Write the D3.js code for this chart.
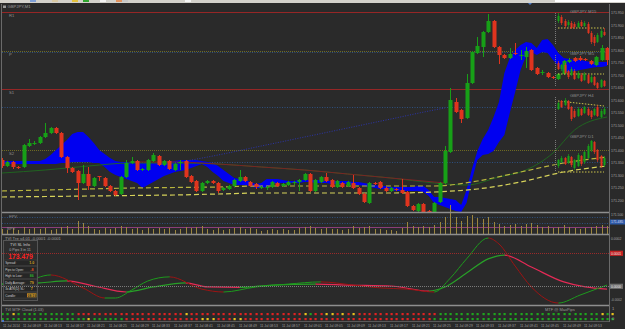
<!DOCTYPE html>
<html>
<head>
<meta charset="utf-8">
<script src="https://cdn.jsdelivr.net/npm/d3@7"></script>
<style>
  body { margin: 0; background: #2a2a2a; }
  svg { display: block; }
  text { font-family: "Liberation Sans", "DejaVu Sans", sans-serif; }
</style>
</head>
<body>
<div id="chart"></div>
<script>
// ---- main chart data (GBPJPY, M1) ----
var candleOpen = [171.360,171.336,171.352,171.332,171.332,171.416,171.424,171.428,171.452,171.468,
  171.488,171.468,171.372,171.328,171.316,171.268,171.304,171.256,171.296,171.288,
  171.256,171.236,171.224,171.292,171.348,171.356,171.320,171.320,171.356,171.376,
  171.340,171.356,171.320,171.348,171.356,171.296,171.276,171.236,171.268,171.276,
  171.268,171.240,171.244,171.256,171.276,171.292,171.272,171.264,171.248,171.248,
  171.252,171.268,171.256,171.260,171.268,171.272,171.280,171.304,171.236,171.272,
  171.292,171.280,171.252,171.268,171.256,171.268,171.248,171.224,171.188,171.268,
  171.272,171.248,171.236,171.244,171.240,171.232,171.176,171.156,171.184,171.156,
  171.144,171.192,171.268,171.392,171.592,171.560,171.528,171.668,171.788,171.812,
  171.872,171.916,171.812,171.780,171.768,171.788,171.776,171.772,171.800,171.728,
  171.708,171.708,171.692,171.684,171.704,171.752,171.768,171.768,171.764,171.756,
  171.740,171.760,171.808];
var candleHigh = [171.368,171.356,171.356,171.336,171.424,171.444,171.436,171.456,171.508,171.492,
  171.492,171.472,171.376,171.332,171.320,171.340,171.332,171.292,171.296,171.292,
  171.260,171.240,171.296,171.360,171.372,171.360,171.328,171.364,171.388,171.380,
  171.360,171.360,171.348,171.360,171.360,171.300,171.280,171.272,171.280,171.280,
  171.272,171.252,171.260,171.284,171.320,171.296,171.276,171.268,171.256,171.256,
  171.276,171.272,171.268,171.276,171.276,171.284,171.308,171.308,171.284,171.296,
  171.308,171.284,171.280,171.272,171.276,171.300,171.252,171.228,171.272,171.272,
  171.276,171.252,171.252,171.248,171.284,171.236,171.180,171.188,171.188,171.160,
  171.192,171.272,171.416,171.648,171.608,171.564,171.704,171.796,171.852,171.876,
  171.944,171.920,171.816,171.784,171.808,171.828,171.800,171.812,171.804,171.732,
  171.720,171.712,171.696,171.708,171.760,171.768,171.772,171.776,171.768,171.760,
  171.776,171.820,171.812];
var candleLow = [171.328,171.332,171.324,171.324,171.328,171.412,171.420,171.424,171.448,171.464,
  171.464,171.368,171.308,171.308,171.200,171.264,171.240,171.252,171.276,171.252,
  171.232,171.216,171.220,171.288,171.344,171.316,171.316,171.316,171.352,171.336,
  171.336,171.320,171.316,171.320,171.288,171.268,171.232,171.232,171.264,171.264,
  171.228,171.236,171.240,171.252,171.272,171.272,171.252,171.244,171.244,171.240,
  171.248,171.252,171.252,171.256,171.260,171.236,171.276,171.232,171.232,171.268,
  171.272,171.248,171.248,171.248,171.252,171.244,171.220,171.188,171.184,171.260,
  171.244,171.232,171.232,171.236,171.224,171.172,171.156,171.152,171.148,171.140,
  171.140,171.188,171.264,171.388,171.548,171.508,171.524,171.664,171.784,171.772,
  171.868,171.808,171.744,171.764,171.764,171.780,171.760,171.728,171.716,171.700,
  171.700,171.688,171.684,171.680,171.700,171.748,171.752,171.756,171.756,171.740,
  171.736,171.756,171.740];
var candleClose = [171.336,171.352,171.332,171.328,171.420,171.428,171.428,171.452,171.468,171.488,
  171.468,171.372,171.328,171.312,171.268,171.304,171.256,171.288,171.292,171.256,
  171.236,171.220,171.292,171.348,171.356,171.320,171.324,171.360,171.380,171.340,
  171.356,171.324,171.344,171.352,171.292,171.272,171.236,171.268,171.276,171.268,
  171.236,171.248,171.256,171.280,171.292,171.276,171.256,171.252,171.252,171.252,
  171.272,171.256,171.264,171.272,171.272,171.280,171.304,171.236,171.280,171.292,
  171.276,171.252,171.276,171.252,171.272,171.248,171.224,171.192,171.268,171.264,
  171.248,171.236,171.248,171.240,171.228,171.176,171.160,171.184,171.152,171.144,
  171.188,171.268,171.396,171.600,171.552,171.524,171.668,171.792,171.816,171.872,
  171.916,171.812,171.780,171.768,171.784,171.784,171.780,171.796,171.720,171.704,
  171.712,171.692,171.688,171.704,171.756,171.760,171.756,171.760,171.760,171.744,
  171.772,171.808,171.760];

// cloud band, one value per bar
var cloudTop = [171.356,171.356,171.356,171.356,171.356,171.356,171.356,171.356,171.364,171.380,
  171.400,171.420,171.440,171.464,171.472,171.472,171.452,171.428,171.400,171.384,
  171.368,171.356,171.352,171.352,171.348,171.348,171.348,171.348,171.348,171.348,
  171.348,171.352,171.356,171.360,171.360,171.360,171.360,171.356,171.352,171.348,
  171.336,171.320,171.304,171.288,171.284,171.280,171.272,171.264,171.268,171.284,
  171.284,171.284,171.280,171.276,171.276,171.280,171.280,171.280,171.280,171.280,
  171.276,171.276,171.276,171.276,171.276,171.272,171.272,171.268,171.264,171.260,
  171.256,171.256,171.252,171.252,171.252,171.252,171.252,171.256,171.256,171.240,
  171.212,171.212,171.208,171.204,171.200,171.180,171.240,171.324,171.396,171.444,
  171.480,171.532,171.592,171.708,171.768,171.800,171.820,171.832,171.828,171.808,
  171.840,171.844,171.820,171.788,171.768,171.764,171.760,171.760,171.756,171.752,
  171.752,171.752,171.752];
var cloudBottom = [171.344,171.344,171.344,171.344,171.344,171.344,171.344,171.344,171.344,171.344,
  171.344,171.348,171.348,171.352,171.352,171.352,171.352,171.348,171.348,171.332,
  171.312,171.300,171.292,171.284,171.276,171.268,171.248,171.260,171.272,171.284,
  171.296,171.304,171.312,171.316,171.320,171.328,171.336,171.344,171.332,171.312,
  171.296,171.276,171.268,171.260,171.260,171.260,171.256,171.248,171.248,171.252,
  171.264,171.268,171.268,171.268,171.268,171.268,171.272,171.272,171.268,171.268,
  171.268,171.264,171.264,171.264,171.264,171.260,171.260,171.256,171.252,171.248,
  171.244,171.244,171.240,171.236,171.236,171.236,171.236,171.236,171.232,171.216,
  171.188,171.180,171.172,171.164,171.156,171.152,171.188,171.280,171.360,171.380,
  171.384,171.396,171.432,171.460,171.548,171.632,171.720,171.776,171.792,171.780,
  171.792,171.788,171.760,171.736,171.712,171.712,171.716,171.720,171.724,171.728,
  171.732,171.732,171.736];

// moving averages, read every 8 bars
var maIdx = [0,8,16,24,32,40,48,56,64,72,80,88,96,104,112];
var maFast = [171.236,171.240,171.244,171.248,171.250,171.252,171.256,171.256,171.256,171.256,171.256,171.276,171.312,171.348,171.372];
var maSlow = [171.212,171.214,171.216,171.218,171.220,171.224,171.228,171.228,171.228,171.228,171.232,171.244,171.272,171.312,171.336];
var greenIdx = [0,8,16,24,32,40,48,56,64,72,80,86,92,97,102,106,112];
var greenLine = [171.308,171.320,171.336,171.348,171.348,171.344,171.332,171.320,171.304,171.288,171.268,171.260,171.292,171.320,171.388,171.480,171.532];
var maroonIdx = [24,32,40,48,56,64,72,80,82];
var maroonLine = [171.352,171.352,171.344,171.332,171.320,171.304,171.288,171.272,171.268];
var blueIdx = [32,40,48,56,64,72,80,82];
var blueLine = [171.348,171.380,171.416,171.452,171.488,171.524,171.560,171.568];

// pivot levels and dotted grid levels
var levelNames = ["R1", "P", "S1", "S2"];
var levelPrices = [171.952, 171.796, 171.644, 171.400];
var blueLevels = [171.792, 171.572, 171.352];

// volume per bar
var volume = [10,8,12,8,14,10,12,10,12,8,10,14,16,10,26,22,16,10,8,12,
  10,12,16,14,10,12,8,12,10,12,10,12,8,10,14,12,14,16,10,8,
  12,8,10,12,14,10,12,10,6,8,10,8,10,8,8,12,14,16,12,10,
  12,10,10,8,10,16,12,14,16,10,10,8,8,6,12,24,16,14,16,14,
  18,24,34,58,34,26,36,38,32,30,34,24,20,16,18,20,16,20,22,18,
  14,16,12,14,18,14,12,10,12,14,16,18,16];

// oscillator (units of 1e-5), key points only
var fastIdx = [0,4,9,15,19,21,24,27,31,37,41,47,53,59,65,70,75,80,83,86,90,92,95,98,103,107,112];
var fastVal = [0.8,1.7,4.6,-0.8,-5.0,-5.0,-1.7,2.1,3.8,-1.3,-2.5,-0.4,0.8,1.7,0.4,-0.8,-1.3,-2.5,3.3,11.3,20.0,17.5,8.3,-0.4,-7.1,-3.8,0.4];
var slowIdx = [0,7,12,17,23,28,34,38,44,50,58,64,72,79,82,86,90,93,98,104,108,112];
var slowVal = [0.8,1.3,2.1,0.0,-2.5,-0.4,1.3,-0.4,-0.6,0.4,0.8,0.4,0.0,-2.1,-0.4,5.4,11.3,12.9,7.9,1.7,-0.4,-1.3];
var oscLevels = [13.75, 0];

// MTF cloud dots: g green, r red, y yellow
var dotRow1 = "ggygggggggggggrrrrrrrrrrrrrrrrrrrryrrrrrrrrrrrrrrrrrrrrrygrryyryryrrrrrrrrrrrrrrrggggggggggggggggggggggggggggggygy";
var dotRow2 = "ggggggggggggggggyggggggrrrrrrrrrrrrrryyyrrryyrrrrrrrrrrrrrrrrrrrrrrrrrrrrrrrrrrrgggggggggggggggggggggggggggggggggg";

var timeLabels = ["11 Jul 2014","11 Jul 08:09","11 Jul 08:13","11 Jul 08:17","11 Jul 08:21","11 Jul 08:25","11 Jul 08:29",
  "11 Jul 08:33","11 Jul 08:37","11 Jul 08:41","11 Jul 08:45","11 Jul 08:49","11 Jul 08:53","11 Jul 08:57",
  "11 Jul 09:01","11 Jul 09:05","11 Jul 09:09","11 Jul 09:13","11 Jul 09:17","11 Jul 09:21","11 Jul 09:25",
  "11 Jul 09:29","11 Jul 09:33","11 Jul 09:37","11 Jul 09:41","11 Jul 09:45","11 Jul 09:49","11 Jul 09:53"];

// info panel
var infoLabels = ["Spread:", "Pips to Open:", "High to Low:", "Daily Average:", "3x ATR(D) SL:", "Candle:"];
var infoValues = ["1.0", "-8", "86", "79", "7", "08:19"];
var lastPrice = "173.479";

// mini multi-timeframe charts, [open, high, low, close]
var miniNames = ["GBPJPY M15", "GBPJPY M5", "GBPJPY H4", "GBPJPY D1"];
var miniM15 = [[171.82,171.90,171.80,171.87],[171.86,171.88,171.78,171.80],[171.82,171.84,171.75,171.77],[171.78,171.83,171.76,171.81],
  [171.80,171.82,171.74,171.75],[171.79,171.81,171.74,171.76],[171.76,171.82,171.75,171.80],[171.81,171.83,171.76,171.77],
  [171.77,171.82,171.76,171.80],[171.79,171.81,171.69,171.70],[171.70,171.72,171.59,171.61],[171.66,171.68,171.57,171.60],
  [171.61,171.70,171.60,171.68],[171.66,171.74,171.65,171.72],[171.71,171.75,171.67,171.68]];
var miniM5 = [[171.82,171.84,171.75,171.76],[171.76,171.81,171.74,171.80],[171.80,171.82,171.71,171.72],[171.74,171.75,171.66,171.68],
  [171.70,171.78,171.69,171.76],[171.74,171.76,171.65,171.66],[171.67,171.74,171.66,171.72],[171.70,171.72,171.63,171.64],
  [171.65,171.73,171.64,171.71],[171.70,171.71,171.61,171.62],[171.63,171.70,171.62,171.68],[171.68,171.69,171.59,171.60],
  [171.62,171.63,171.56,171.57],[171.58,171.66,171.57,171.65],[171.64,171.65,171.58,171.59]];
var miniH4 = [[171.78,171.85,171.77,171.84],[171.86,171.87,171.79,171.80],[171.82,171.89,171.81,171.87],[171.86,171.87,171.77,171.78],
  [171.80,171.81,171.66,171.68],[171.76,171.78,171.69,171.70],[171.71,171.80,171.70,171.78],[171.78,171.79,171.71,171.72],
  [171.74,171.81,171.73,171.80],[171.78,171.80,171.71,171.72],[171.76,171.77,171.68,171.70],[171.72,171.79,171.71,171.78],
  [171.80,171.82,171.70,171.71],[171.70,171.78,171.69,171.76],[171.73,171.80,171.72,171.78]];
var miniD1 = [[171.64,171.71,171.62,171.70],[171.68,171.74,171.67,171.72],[171.72,171.73,171.65,171.66],[171.67,171.76,171.66,171.74],
  [171.73,171.74,171.63,171.65],[171.62,171.71,171.60,171.70],[171.64,171.77,171.63,171.75],[171.74,171.75,171.64,171.66],
  [171.68,171.79,171.66,171.78],[171.72,171.86,171.71,171.84],[171.80,171.90,171.78,171.89],[171.88,171.89,171.76,171.78],
  [171.80,171.81,171.68,171.70],[171.74,171.75,171.62,171.64],[171.65,171.74,171.63,171.72]];
var miniLevels = [[171.75, 171.75], [171.71, 171.71], [171.86, 171.81], [171.58, 171.58]];

// ---- drawing ----
var W = 625, H = 329;
var UP = "#17a017", DOWN = "#e0341e";
var svg = d3.select("#chart").append("svg").attr("width", W).attr("height", H);
var defs = svg.append("defs");

// shrink a text to fit a width, keeping its natural size when it already fits
function fit(sel, maxW) {
  sel.each(function() {
    var w = this.getComputedTextLength();
    if (w > maxW) d3.select(this).attr("textLength", maxW).attr("lengthAdjust", "spacingAndGlyphs");
  });
  return sel;
}

svg.append("rect").attr("width", W).attr("height", H).attr("fill", "#2a2a2a");
svg.append("rect").attr("width", W).attr("height", 3).attr("fill", "#d3d1cb");
[[30,"#7f9fd6"],[52,"#d9c9a3"],[72,"#e3c23e"],[83,"#2fa52f"],[100,"#f3f3f3"],[116,"#e2935f"],[122,"#c7c7c7"],[185,"#f5f5f5"],[555,"#ffffff"]]
  .forEach(function(c) { svg.append("rect").attr("x", c[0]).attr("width", c[0] > 500 ? 70 : 6).attr("height", 2).attr("fill", c[1]); });
svg.append("path").attr("d", "M528,3 L532,3 L530,5 Z").attr("fill", "#4a78c8");

var x = d3.scaleLinear().domain([0, 112]).range([2, 607]);
var y = d3.scaleLinear().domain([171.2, 172.0]).range([200, 0]);
function px(i) { return Math.round(x(i)); }

defs.append("clipPath").attr("id", "mainClip").append("rect")
    .attr("x", 2).attr("y", 4).attr("width", 607).attr("height", 208);
var main = svg.append("g").attr("clip-path", "url(#mainClip)");

// level lines
levelNames.forEach(function(n, k) {
  var yy = Math.round(y(levelPrices[k])) + 0.5;
  var red = (n === "R1" || n === "S1");
  main.append("line").attr("x1", 2).attr("x2", 609).attr("y1", yy).attr("y2", yy)
      .attr("stroke", red ? "#962626" : "#6e6a22").attr("stroke-width", 1)
      .attr("stroke-dasharray", red ? null : "1,1");
  svg.append("text").attr("x", 9).attr("y", yy + 4).attr("font-size", 4.2).attr("fill", "#8d8d8d").text(n);
});
blueLevels.forEach(function(p) {
  var yy = Math.round(y(p)) + 0.5;
  main.append("line").attr("x1", 2).attr("x2", 609).attr("y1", yy).attr("y2", yy)
      .attr("stroke", "#2c4f7e").attr("stroke-dasharray", "1,1.5");
});

// cloud
var area = d3.area().x(function(d, i) { return x(i); })
    .y0(function(d, i) { return y(cloudBottom[i]); })
    .y1(function(d) { return y(d); });
main.append("path").attr("d", area(cloudTop)).attr("fill", "#0000f0");

// moving average lines
function seriesLine(idx, vals) {
  return d3.line().x(function(d, k) { return x(idx[k]); }).y(function(d) { return y(d); })
      .curve(d3.curveMonotoneX)(vals);
}
main.append("path").attr("d", seriesLine(greenIdx, greenLine)).attr("fill", "none").attr("stroke", "#1f6a1f").attr("stroke-width", 0.9);
main.append("path").attr("d", seriesLine(maroonIdx, maroonLine)).attr("fill", "none").attr("stroke", "#7a2424").attr("stroke-width", 1);
main.append("path").attr("d", seriesLine(blueIdx, blueLine)).attr("fill", "none").attr("stroke", "#2a36b8").attr("stroke-width", 0.9).attr("stroke-dasharray", "1,1.5");
main.append("path").attr("d", seriesLine(maIdx, maFast)).attr("fill", "none").attr("stroke", "#b8b43e").attr("stroke-width", 1.2).attr("stroke-dasharray", "5,3");
main.append("path").attr("d", seriesLine(maIdx, maSlow)).attr("fill", "none").attr("stroke", "#d6d25a").attr("stroke-width", 1.2).attr("stroke-dasharray", "5,3");

// candles
var bars = candleOpen.map(function(o, i) {
  return { i: i, o: o, h: candleHigh[i], l: candleLow[i], c: candleClose[i] };
});
main.selectAll(".wick").data(bars).enter().append("line")
    .attr("x1", function(d) { return px(d.i) + 0.5; })
    .attr("x2", function(d) { return px(d.i) + 0.5; })
    .attr("y1", function(d) { return y(d.h); })
    .attr("y2", function(d) { return y(d.l); })
    .attr("stroke", function(d) { return d.c >= d.o ? UP : DOWN; });
main.selectAll(".body").data(bars).enter().append("rect")
    .attr("x", function(d) { return px(d.i) - 1.5; })
    .attr("width", 4)
    .attr("y", function(d) { return y(Math.max(d.o, d.c)); })
    .attr("height", function(d) { return Math.max(1, Math.abs(y(d.o) - y(d.c))); })
    .attr("fill", function(d) { return d.c >= d.o ? UP : DOWN; });

// mini charts
var miniData = [miniM15, miniM5, miniH4, miniD1];
var miniTops = [13, 55, 97, 140];
var miniLabelY = [11, 53, 95, 136];
miniData.forEach(function(data, m) {
  var top = miniTops[m];
  var ys = d3.scaleLinear().domain([171.56, 171.90]).range([top + 34, top]);
  var xs = d3.scaleLinear().domain([0, data.length - 1]).range([558, 604]);
  var g = main.append("g");
  g.append("line").attr("x1", 555.5).attr("x2", 555.5).attr("y1", top).attr("y2", top + 32)
      .attr("stroke", "#7a7a7a").attr("stroke-dasharray", "1,1");
  var lv = miniLevels[m];
  g.append("line").attr("x1", xs(0)).attr("x2", xs(data.length - 1))
      .attr("y1", ys(lv[0])).attr("y2", ys(lv[1]))
      .attr("stroke", "#c9c24a").attr("stroke-dasharray", "1.5,1.5");
  data.forEach(function(d, k) {
    var cx = Math.round(xs(k)) + 0.5, col = d[3] >= d[0] ? UP : DOWN;
    g.append("line").attr("x1", cx).attr("x2", cx).attr("y1", ys(d[1])).attr("y2", ys(d[2]))
        .attr("stroke", col).attr("stroke-width", 0.7);
    g.append("rect").attr("x", cx - 1).attr("width", 2)
        .attr("y", ys(Math.max(d[0], d[3]))).attr("height", Math.max(0.8, Math.abs(ys(d[0]) - ys(d[3]))))
        .attr("fill", col);
  });
  svg.append("text").attr("x", 570).attr("y", miniLabelY[m] + 1.5).attr("font-size", 4.3)
      .attr("fill", "#8e8e8e").text(miniNames[m]);
});

svg.append("rect").attr("x", 3).attr("y", 5.5).attr("width", 3).attr("height", 2.5).attr("fill", "#9a9a9a");
svg.append("text").attr("x", 7.5).attr("y", 8).attr("font-size", 4.2).attr("fill", "#9a9a9a").text("GBPJPY,M1");

// right price axis
var ticks = d3.range(171.2, 171.96, 0.05);
fit(svg.selectAll(".pt").data(ticks).enter().append("text")
    .attr("x", 611).attr("y", function(d) { return y(d) + 1.5; })
    .attr("font-size", 3.5).attr("fill", "#a5a5a5").text(function(d) { return d3.format(".3f")(d); }), 13);

// volume panel
var vy = d3.scaleLinear().domain([0, 58]).range([234, 205]);
[217.5, 223.5].forEach(function(yy) {
  svg.append("line").attr("x1", 2).attr("x2", 609).attr("y1", yy).attr("y2", yy).attr("stroke", "#2c4f7e").attr("stroke-dasharray", "1,1.5");
});
svg.append("line").attr("x1", 2).attr("x2", 609).attr("y1", 227.5).attr("y2", 227.5).attr("stroke", "#8a3e7a");
svg.selectAll(".vol").data(volume).enter().append("line")
    .attr("x1", function(d, i) { return px(i) + 0.5; })
    .attr("x2", function(d, i) { return px(i) + 0.5; })
    .attr("y1", 234).attr("y2", function(d) { return vy(d); })
    .attr("stroke", "#9c8640");
svg.append("text").attr("x", 9).attr("y", 218).attr("font-size", 4.2).attr("fill", "#8d8d8d").text("FPV");
svg.append("text").attr("x", 7).attr("y", 229.5).attr("font-size", 4.2).attr("fill", "#8d8d8d").text("BPV");
svg.append("rect").attr("x", 610).attr("y", 219.5).attr("width", 15).attr("height", 5).attr("fill", "#2d5aa8");
fit(svg.append("text").attr("x", 611).attr("y", 223.3).attr("font-size", 3.4).attr("fill", "#dde").text("171.485"), 13);
fit(svg.append("text").attr("x", 611).attr("y", 216).attr("font-size", 3.4).attr("fill", "#a5a5a5").text("171.500"), 13);

// oscillator panel
var yo = d3.scaleLinear().domain([-5, 20]).range([298, 238]);
svg.append("text").attr("x", 5).attr("y", 240).attr("font-size", 4.2).attr("fill", "#a0a0a0").text("TVI Tre v4.01 -0.0001 -0.0001");

function osc(idx, vals, upCol, downCol, w, id) {
  var pts = idx.map(function(d, k) { return [x(d), yo(vals[k])]; });
  var d = d3.line().curve(d3.curveMonotoneX)(pts);
  var cu = defs.append("clipPath").attr("id", id + "u");
  var cd = defs.append("clipPath").attr("id", id + "d");
  for (var k = 0; k < pts.length - 1; k++) {
    (vals[k + 1] >= vals[k] ? cu : cd).append("rect")
        .attr("x", pts[k][0]).attr("width", pts[k + 1][0] - pts[k][0] + 0.3)
        .attr("y", 230).attr("height", 80);
  }
  svg.append("path").attr("d", d).attr("fill", "none").attr("stroke", downCol).attr("stroke-width", w).attr("clip-path", "url(#" + id + "d)");
  svg.append("path").attr("d", d).attr("fill", "none").attr("stroke", upCol).attr("stroke-width", w).attr("clip-path", "url(#" + id + "u)");
}
osc(slowIdx, slowVal, "#28a028", "#e42a56", 1.2, "slow");
osc(fastIdx, fastVal, "#1e9a1e", "#9c1414", 1, "fast");

// info box
svg.append("rect").attr("x", 3.5).attr("y", 240.5).attr("width", 34).attr("height", 60).attr("fill", "#2d2d2d").attr("stroke", "#555");
fit(svg.append("text").attr("x", 20).attr("y", 245.5).attr("text-anchor", "middle").attr("font-size", 4).attr("fill", "#d0d0d0").text("TVI  SL  Info"), 24);
fit(svg.append("text").attr("x", 20).attr("y", 250.5).attr("text-anchor", "middle").attr("font-size", 3.6).attr("fill", "#b0b0b0").text("0 Pips 3 in 11"), 26);
var valCols = ["#d9a21f", "#e0521e", "#2fb02f", "#d9a21f", "#d9a21f", "#2a2a2a"];
infoLabels.forEach(function(lab, k) {
  var ty = 260 + k * 6.5;
  svg.append("rect").attr("x", 4).attr("y", ty).attr("width", 33).attr("height", 5.5)
      .attr("fill", "#262626").attr("stroke", "#474747").attr("stroke-width", 0.5);
  if (k === infoLabels.length - 1) {
    svg.append("rect").attr("x", 27).attr("y", ty + 0.8).attr("width", 9.5).attr("height", 4).attr("fill", "#c58e22");
  }
  fit(svg.append("text").attr("x", 5.2).attr("y", ty + 4.1).attr("font-size", 3.1).attr("fill", "#cfcfcf").text(lab), 20);
  fit(svg.append("text").attr("x", 31.8).attr("y", ty + 4.2).attr("text-anchor", "middle").attr("font-size", 3.6)
      .attr("font-weight", "bold").attr("fill", valCols[k]).text(infoValues[k]), 8.5);
});

oscLevels.forEach(function(v, k) {
  var yy = Math.round(yo(v)) + 0.5;
  svg.append("line").attr("x1", 2).attr("x2", 609).attr("y1", yy).attr("y2", yy)
      .attr("stroke", k === 0 ? "#9a2a2a" : "#7a7a7a").attr("stroke-dasharray", "1,1");
  svg.append("rect").attr("x", 610).attr("y", yy - 2.8).attr("width", 13).attr("height", 5.2)
      .attr("fill", k === 0 ? "#c42222" : "#6e6e6e");
  fit(svg.append("text").attr("x", 611).attr("y", yy + 1.3).attr("font-size", 3.3).attr("fill", "#eee")
      .text(d3.format(".4f")(v * 1e-5)), 11);
});
fit(svg.append("text").attr("x", 20.5).attr("y", 259).attr("text-anchor", "middle").attr("font-size", 6.8)
    .attr("font-weight", "bold").attr("fill", "#ff2222").text(lastPrice), 26);
fit(svg.append("text").attr("x", 611).attr("y", 240).attr("font-size", 3.4).attr("fill", "#a5a5a5").text(d3.format(".4f")(20e-5)), 12);
fit(svg.append("text").attr("x", 611).attr("y", 301).attr("font-size", 3.2).attr("fill", "#a5a5a5").text("-0.0002"), 13);

// MTF dots panel
var dotCol = { g: "#1ea51e", r: "#e02222", y: "#e8c21e" };
svg.append("text").attr("x", 5).attr("y", 310.5).attr("font-size", 4).attr("fill", "#9a9a9a").text("TVI MTF Cloud (1.03)");
svg.append("text").attr("x", 545).attr("y", 311).attr("font-size", 4).attr("fill", "#9a9a9a").text("MTF @ MaxPips");
[[dotRow1, 313], [dotRow2, 318]].forEach(function(row) {
  svg.selectAll(null).data(row[0].split("")).enter().append("rect")
      .attr("x", function(d, i) { return px(i) - 0.5; })
      .attr("y", row[1]).attr("width", 2.2).attr("height", 2.2)
      .attr("fill", function(d) { return dotCol[d]; });
});
svg.append("text").attr("x", 612).attr("y", 310).attr("font-size", 4).attr("fill", "#a5a5a5").text("1");
svg.append("text").attr("x", 612).attr("y", 320).attr("font-size", 4).attr("fill", "#a5a5a5").text("0");

// panel separators and frame
[212.5, 234.5, 305.5].forEach(function(yy) {
  svg.append("line").attr("x1", 2).attr("x2", 609).attr("y1", yy).attr("y2", yy).attr("stroke", "#8e8e8e").attr("stroke-width", 1.3);
});
svg.append("line").attr("x1", 2).attr("x2", 609).attr("y1", 321.5).attr("y2", 321.5).attr("stroke", "#5a5a5a");
svg.append("line").attr("x1", 609.5).attr("x2", 609.5).attr("y1", 4).attr("y2", 322).attr("stroke", "#6a6a6a");
svg.append("line").attr("x1", 1.5).attr("x2", 1.5).attr("y1", 4).attr("y2", 322).attr("stroke", "#6a6a6a");
svg.append("rect").attr("x", 2).attr("y", 320).attr("width", 2).attr("height", 2).attr("fill", "#4a78c8");

// time axis
fit(svg.selectAll(".tl").data(timeLabels).enter().append("text")
    .attr("x", function(d, k) { return k === 0 ? 3 : px(4 * k) - 1; })
    .attr("y", 327).attr("font-size", 3.3).attr("fill", "#a0a0a0")
    .text(function(d) { return d; }), 18.5);
</script>
</body>
</html>
